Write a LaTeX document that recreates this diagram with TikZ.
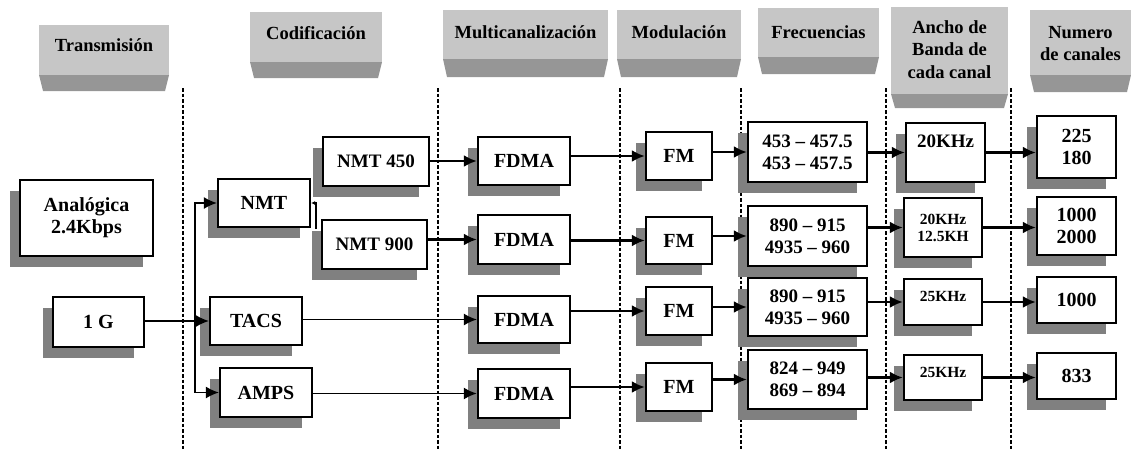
\documentclass[tikz,border=0pt]{standalone}
\usepackage{fontspec}
\setmainfont{Liberation Serif}
\usetikzlibrary{arrows.meta,shadows}

\definecolor{hdrlight}{RGB}{198,198,198}
\definecolor{hdrdark}{RGB}{150,150,150}
\definecolor{shadowgray}{RGB}{128,128,128}

\tikzset{
  box/.style={draw=black, line width=2.3pt, fill=white, inner sep=0pt,
    align=center, font=\fontsize{19}{22}\selectfont\bfseries,
    drop shadow={shadow xshift=-10pt, shadow yshift=-11pt, fill=shadowgray, opacity=1}},
  big/.style={font=\fontsize{20}{22}\selectfont\bfseries},
  small/.style={font=\fontsize{15.5}{17}\selectfont\bfseries},
  hdrtext/.style={align=center, inner sep=0pt, font=\fontsize{18.5}{22.5}\selectfont\bfseries},
  sep/.style={line width=2.4pt, dash pattern=on 3.5pt off 2pt},
  arr/.style={line width=2.6pt, -{Latex[length=13pt,width=12pt]}},
  arrthin/.style={line width=1.5pt, -{Latex[length=13pt,width=12pt]}},
}

% body box: name, x1, y1, x2, y2, text
\newcommand\bx[7][]{%
  \node[box,#1,minimum width={#5-#3},minimum height={#6-#4}] (#2)
    at ({(#3+#5)/2},{(#4+#6)/2}) {#7};}
% column header: name, x1, x2, ytop, ymid, ybot, text y, text
\newcommand\hdr[8]{%
  \fill[hdrdark] (#2,#5) -- (#3,#5) -- ({#3-4},#6) -- ({#2+4},#6) -- cycle;
  \fill[hdrlight] (#2,#4) rectangle (#3,#5);
  \node[hdrtext] (#1) at ({(#2+#3)/2},#7) {#8};}

\begin{document}
\begin{tikzpicture}[x=1pt,y=-1pt]
\useasboundingbox (0,0) rectangle (1131,450);

% column headers
\hdr{hTrans}{39}{169}{25}{75}{91}{45}{Transmisión}
\hdr{hCod}{250}{382}{12}{62}{78}{33}{Codificación}
\hdr{hMux}{443}{608}{10}{59}{77}{32}{Multicanalización}
\hdr{hMod}{617}{741}{10}{59}{77}{32}{Modulación}
\hdr{hFrec}{758}{879}{8}{57}{74}{32}{Frecuencias}
\hdr{hAncho}{891}{1008}{7}{94}{108}{49.5}{Ancho de\\Banda de\\cada canal}
\hdr{hNum}{1030}{1131}{10}{75}{92}{43.5}{Numero\\de canales}

% column separators
\foreach \x in {183,438,620,741,886,1011}
  \draw[sep] (\x,88) -- (\x,450);

% transmission and coding
\bx[big]{analog}{20}{180}{153}{256}{Analógica\\2.4Kbps}
\bx[big]{g1}{53}{297}{144}{347}{1 G}
\bx[big]{nmt}{218}{179}{310}{227}{NMT}
\bx[big]{tacs}{210}{297}{302}{345}{TACS}
\bx[big]{amps}{220}{368}{312}{417}{AMPS}
\bx{nmt450}{323}{137}{429}{186}{NMT 450}
\bx{nmt900}{322}{220}{427}{269}{NMT 900}

% multiplexing
\bx[big]{fdma1}{478}{137}{570}{185}{FDMA}
\bx[big]{fdma2}{478}{215}{570}{264}{FDMA}
\bx[big]{fdma3}{478}{296}{570}{343}{FDMA}
\bx[big]{fdma4}{478}{369}{570}{418}{FDMA}

% modulation
\bx[big]{fm1}{646}{132}{712}{180}{FM}
\bx[big]{fm2}{646}{217}{712}{264}{FM}
\bx[big]{fm3}{646}{287}{712}{335}{FM}
\bx[big]{fm4}{646}{363}{712}{411}{FM}

% frequencies
\bx{fr1}{748}{122}{867}{182}{453 – 457.5\\453 – 457.5}
\bx{fr2}{748}{206}{867}{266}{890 – 915\\4935 – 960}
\bx{fr3}{748}{278}{867}{336}{890 – 915\\4935 – 960}
\bx{fr4}{748}{350}{867}{409}{824 – 949\\869 – 894}

% channel bandwidth
\bx{an1}{906}{123}{985}{182}{20KHz\\\mbox{}}
\bx[small]{an2}{904}{198}{982}{257}{20KHz\\12.5KH}
\bx[small]{an3}{904}{279}{982}{325}{25KHz\\[-6pt]\mbox{}}
\bx[small]{an4}{904}{355}{982}{400}{25KHz\\[-6pt]\mbox{}}

% number of channels
\bx[big]{nu1}{1037}{116}{1116}{178}{225\\180}
\bx[big]{nu2}{1037}{197}{1116}{255}{1000\\2000}
\bx[big]{nu3}{1037}{277}{1116}{323}{1000}
\bx[big]{nu4}{1037}{353}{1116}{399}{833}

% branching from 1G
\path (tacs.west) ++(-14,0) coordinate (j);
\draw[arrthin] (g1.east |- tacs.west) -- (tacs.west);
\draw[arrthin] (j) |- (nmt.west);
\draw[arrthin] (j) |- (amps.west);

% NMT split
\coordinate (nmtj) at (316,229);
\draw[line width=1.4pt, -{Latex[length=4pt,width=4pt]}] (nmtj) |- (nmt.east);

% rows
\draw[arr] (nmt450.east |- fdma1.west) -- (fdma1.west);
\draw[arr] (nmt900.east |- fdma2.west) -- (fdma2.west);
\draw[arrthin] (tacs.east |- fdma3.west) -- (fdma3.west);
\draw[arr, line width=1.9pt] (amps.east |- fdma4.west) -- (fdma4.west);

\foreach \r in {1,2,3,4} {
  \draw[arr] (fdma\r.east |- fm\r.west) -- (fm\r.west);
  \draw[arr] (fm\r.east |- fr\r.west) -- (fr\r.west);
  \draw[arr] (fr\r.east |- an\r.west) -- (an\r.west);
  \draw[arr] (an\r.east) -- (an\r.east -| nu\r.west);
}
\end{tikzpicture}
\end{document}
